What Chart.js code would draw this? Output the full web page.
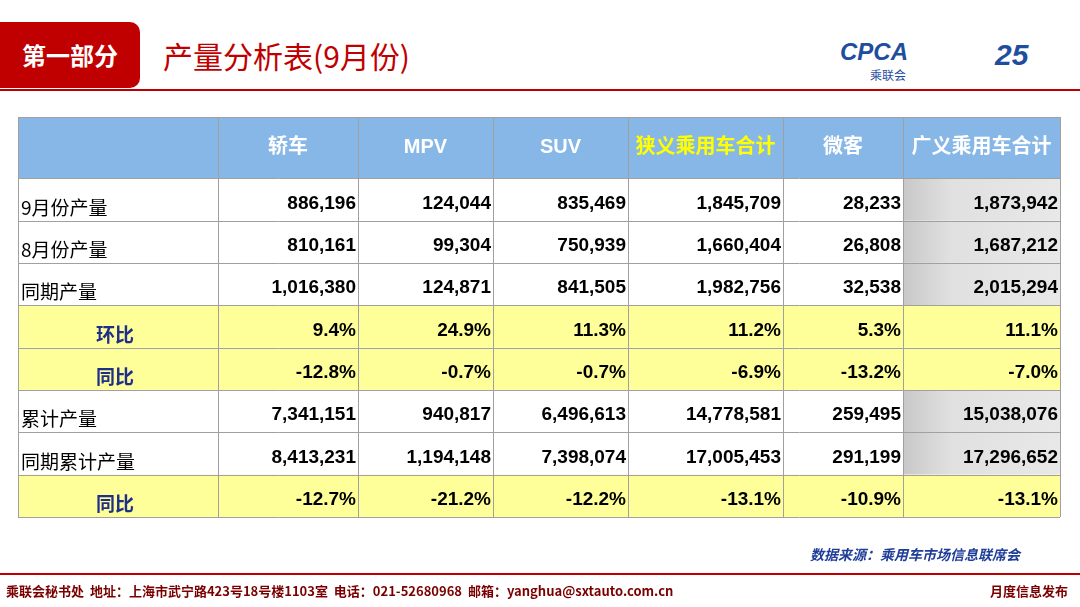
<!DOCTYPE html>
<html><head><meta charset="utf-8">
<script src="https://cdn.jsdelivr.net/npm/chart.js@4"></script>
<style>
body{margin:0;width:1080px;height:607px;background:#fff;position:relative;overflow:hidden;font-family:"Liberation Sans","Noto Sans CJK SC",sans-serif}
#c{position:absolute;left:0;top:0}
.tag{position:absolute;left:0;top:22px;width:140px;height:66px;background:#c00000;color:#fff;font:bold 24px "Noto Sans CJK SC";line-height:66px;text-align:center;border-radius:0 10px 10px 0}
.title{position:absolute;left:163px;top:33px;color:#c00000;font:30px "Noto Sans CJK SC","Liberation Sans";}
.hl{position:absolute;left:0;top:89px;width:1080px;height:2px;background:#c00000}
.logo{position:absolute;left:840px;top:38px;color:#1f4e9e;font:bold italic 24px "Liberation Sans"}
.logo2{position:absolute;left:995px;top:38px;color:#1f4e9e;font:bold italic 30px "Liberation Sans"}
.src{position:absolute;right:60px;top:544px;color:#1f3d99;font:bold italic 14px "Noto Sans CJK SC"}
.fl{position:absolute;left:0;top:573px;width:1080px;height:2px;background:#c00000}
.foot{position:absolute;left:6px;top:581px;color:#7a0000;font:bold 13px "Noto Sans CJK SC"}
.foot2{position:absolute;right:12px;top:581px;color:#7a0000;font:bold 13px "Noto Sans CJK SC"}
</style></head><body>
<div class="tag">第一部分</div><div class="title">产量分析表(9月份)</div><div class="hl"></div>
<div class="logo">CPCA<div style="font:12px 'Noto Sans CJK SC';color:#1f4e9e;margin-left:30px">乘联会</div></div>
<div class="logo2">25</div>
<canvas id="c" width="1080" height="607"></canvas>
<div class="src">数据来源：乘用车市场信息联席会</div>
<div class="fl"></div>
<div class="foot">乘联会秘书处&nbsp;&nbsp;地址：上海市武宁路423号18号楼1103室&nbsp;&nbsp;电话：021-52680968&nbsp;&nbsp;邮箱：yanghua@sxtauto.com.cn</div>
<div class="foot2">月度信息发布</div>
<script>
const columns=["","轿车","MPV","SUV","狭义乘用车合计","微客","广义乘用车合计"];
const rowLabels=["9月份产量","8月份产量","同期产量","环比","同比","累计产量","同期累计产量","同比"];
const rowIsRatio=[false,false,false,true,true,false,false,true];
const values=[
["886,196","124,044","835,469","1,845,709","28,233","1,873,942"],
["810,161","99,304","750,939","1,660,404","26,808","1,687,212"],
["1,016,380","124,871","841,505","1,982,756","32,538","2,015,294"],
["9.4%","24.9%","11.3%","11.2%","5.3%","11.1%"],
["-12.8%","-0.7%","-0.7%","-6.9%","-13.2%","-7.0%"],
["7,341,151","940,817","6,496,613","14,778,581","259,495","15,038,076"],
["8,413,231","1,194,148","7,398,074","17,005,453","291,199","17,296,652"],
["-12.7%","-21.2%","-12.2%","-13.1%","-10.9%","-13.1%"]];
const colW=[200,140,135,135,155,120,157];
const edges=[0];colW.forEach(w=>edges.push(edges[edges.length-1]+w));
const rowEdges=[0,61];for(let i=0;i<8;i++)rowEdges.push(rowEdges[rowEdges.length-1]+42.25);
const tablePlugin={id:'tbl',afterDraw(ch){
 const c=ch.ctx,X=ch.scales.x,Y=ch.scales.y;
 const px=v=>X.getPixelForValue(v),py=v=>Y.getPixelForValue(v);
 c.save();
 // header
 for(let j=0;j<7;j++){
  const x0=px(edges[j]),x1=px(edges[j+1]),y0=py(rowEdges[0]),y1=py(rowEdges[1]);
  c.fillStyle='#86b7e6';c.fillRect(x0,y0,x1-x0,y1-y0);
  c.fillStyle=j==4?'#ffff00':'#fff';c.font='bold 20px "Liberation Sans","Noto Sans CJK SC"';
  c.textAlign='center';c.textBaseline='middle';c.fillText(columns[j],(x0+x1)/2,(y0+y1)/2);
 }
 for(let i=0;i<8;i++){
  const y0=py(rowEdges[i+1]),y1=py(rowEdges[i+2]);
  for(let j=0;j<7;j++){
   const x0=px(edges[j]),x1=px(edges[j+1]);
   let bg=rowIsRatio[i]?'#ffff99':'#fff';
   if(!rowIsRatio[i]&&j==6){const g=c.createLinearGradient(x0,0,x1,0);g.addColorStop(0,'#c8c8c8');g.addColorStop(0.3,'#e0e0e0');g.addColorStop(1,'#e8e8e8');bg=g;}
   c.fillStyle=bg;c.fillRect(x0,y0,x1-x0,y1-y0);
   c.textBaseline='alphabetic';
   if(j==0){
    if(rowIsRatio[i]){c.fillStyle='#1f2e8a';c.font='bold 19px "Noto Sans CJK SC"';c.textAlign='left';c.fillText(rowLabels[i],x0+78,y1-6);}
    else{c.fillStyle='#000';c.font='19px "Noto Sans CJK SC"';c.textAlign='left';c.fillText(rowLabels[i],x0+3,y1-6);}
   }else{c.fillStyle='#000';c.font='bold 19px "Liberation Sans"';c.textAlign='right';c.fillText(values[i][j-1],x1-2,y1-12);}
  }
 }
 c.strokeStyle='#a0a0a0';c.lineWidth=1;
 const top=py(rowEdges[0]),bot=py(rowEdges[rowEdges.length-1]);
 edges.forEach(e=>{c.beginPath();c.moveTo(Math.round(px(e))+.5,top);c.lineTo(Math.round(px(e))+.5,bot);c.stroke();});
 rowEdges.forEach(r=>{c.beginPath();c.moveTo(px(0),Math.round(py(r))+.5);c.lineTo(px(edges[7]),Math.round(py(r))+.5);c.stroke();});
 c.restore();
}};
new Chart(document.getElementById('c'),{type:'scatter',data:{datasets:[{data:[],pointRadius:0}]},
 options:{responsive:false,animation:false,devicePixelRatio:1,layout:{padding:{left:18,right:20,top:117,bottom:90}},
 plugins:{legend:{display:false},tooltip:{enabled:false}},
 scales:{x:{type:'linear',min:0,max:edges[7],display:false},y:{type:'linear',min:0,max:rowEdges[rowEdges.length-1],reverse:true,display:false}}},
 plugins:[tablePlugin]});
</script></body></html>
